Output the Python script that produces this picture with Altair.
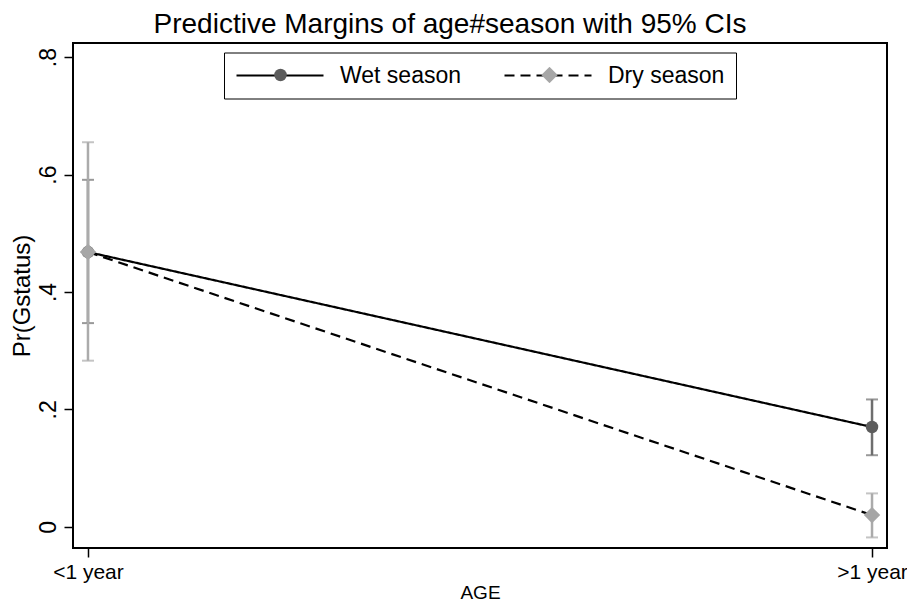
import altair as alt
import pandas as pd

# ---- data ----
ages = ["<1 year", ">1 year"]
seasons = ["Wet season", "Dry season"]
wet_margin = [0.468, 0.170]
wet_lo = [0.347, 0.122]
wet_hi = [0.591, 0.217]
dry_margin = [0.468, 0.020]
dry_lo = [0.283, -0.018]
dry_hi = [0.655, 0.057]
y_ticks = [0, 0.2, 0.4, 0.6, 0.8]
y_tick_labels = ["0", ".2", ".4", ".6", ".8"]

rows = []
for s, m, lo, hi in [(seasons[0], wet_margin, wet_lo, wet_hi),
                     (seasons[1], dry_margin, dry_lo, dry_hi)]:
    for i, a in enumerate(ages):
        rows.append({"season": s, "age_idx": i, "age": a,
                     "margin": m[i], "lo": lo[i], "hi": hi[i]})
df = pd.DataFrame(rows)

FONT = "Liberation Sans"
X_DOMAIN = [-0.0191, 1.0191]
Y_DOMAIN = [-0.036, 0.824]
WET_COL = "#5c5c5c"
DRY_COL = "#a6a6a6"
WET_CI = "#6e6e6e"
DRY_CI = "#ababab"

x_label_expr = " : ".join(
    [f"datum.value == {i} ? '{a}'" for i, a in enumerate(ages[:-1])] + [f"'{ages[-1]}'"])
y_label_expr = " : ".join(
    [f"abs(datum.value - {v}) < 0.001 ? '{l}'" for v, l in zip(y_ticks, y_tick_labels)] + ["''"])

x_enc = alt.X("age_idx:Q",
              scale=alt.Scale(domain=X_DOMAIN, nice=False, zero=False),
              axis=alt.Axis(values=[0, 1], labelExpr=x_label_expr, title="AGE",
                            labelFontSize=21, titleFontSize=19,
                            labelPadding=4, titlePadding=1))
y_axis = alt.Axis(values=y_ticks, labelExpr=y_label_expr, title="Pr(Gstatus)",
                  labelAngle=270, labelAlign="center", labelBaseline="alphabetic",
                  labelFontSize=23, titleFontSize=24,
                  labelPadding=9, titlePadding=3)
y_scale = alt.Scale(domain=Y_DOMAIN, nice=False, zero=False)

base = alt.Chart(df)

layers = []
for s, col in [(seasons[0], WET_CI), (seasons[1], DRY_CI)]:
    sub = base.transform_filter(alt.datum.season == s)
    layers.append(sub.mark_rule(color=col, strokeWidth=2.5).encode(
        x=x_enc, y=alt.Y("lo:Q", scale=y_scale, axis=y_axis), y2="hi:Q"))
    layers.append(sub.mark_tick(color=col, orient="horizontal", size=12, thickness=2).encode(
        x=x_enc, y=alt.Y("lo:Q", scale=y_scale)))
    layers.append(sub.mark_tick(color=col, orient="horizontal", size=12, thickness=2).encode(
        x=x_enc, y=alt.Y("hi:Q", scale=y_scale)))

lines = base.mark_line(color="black", strokeWidth=2.2).encode(
    x=x_enc,
    y=alt.Y("margin:Q", scale=y_scale),
    strokeDash=alt.StrokeDash(
        "season:N",
        scale=alt.Scale(domain=seasons, range=[[1, 0], [10, 6]]),
        legend=alt.Legend(orient="none", legendX=151, legendY=9.5, direction="horizontal",
                          title=None, symbolType="stroke", symbolSize=7569,
                          symbolStrokeWidth=2.2, symbolStrokeColor="black",
                          labelFont=FONT, labelFontSize=23, labelColor="black",
                          labelOffset=15, columnPadding=41, padding=11,
                          strokeColor="black", fillColor="white", clipHeight=24)),
)

pkeys = ["p_" + s for s in seasons]
legend_b = alt.Legend(orient="none", legendX=201, legendY=24, direction="horizontal",
                      title=None, labelExpr="''", labelFontSize=1, labelOffset=0,
                      columnPadding=254, padding=0, symbolStrokeWidth=0, clipHeight=16)
points = base.transform_calculate(pkey="'p_' + datum.season").mark_point(
    filled=True, opacity=1, strokeWidth=0).encode(
    x=x_enc,
    y=alt.Y("margin:Q", scale=y_scale),
    shape=alt.Shape("pkey:N", scale=alt.Scale(domain=pkeys, range=["circle", "diamond"]),
                    legend=legend_b),
    color=alt.Color("pkey:N", scale=alt.Scale(domain=pkeys, range=[WET_COL, DRY_COL]),
                    legend=legend_b),
    size=alt.Size("pkey:O", scale=alt.Scale(domain=pkeys, range=[156, 270]),
                  legend=legend_b),
)

chart = alt.layer(*layers, lines, points).properties(
    width=814, height=505,
    autosize=alt.AutoSizeParams(type="none"),
    padding={"left": 65, "top": 35, "right": 20, "bottom": 54},
    title=alt.Title("Predictive Margins of age#season with 95% CIs", fontSize=28,
                    font=FONT, fontWeight="normal", color="black", dx=-30, offset=4),
).configure_view(stroke="black", strokeWidth=2).configure_axis(
    domain=False, grid=False, ticks=True, tickColor="black", tickWidth=1.5, tickSize=9,
    labelFont=FONT, labelColor="black",
    titleFont=FONT, titleFontWeight="normal", titleColor="black",
).configure_legend(labelFont=FONT)

chart.save("out.html", embed_options={"renderer": "svg", "actions": False})
